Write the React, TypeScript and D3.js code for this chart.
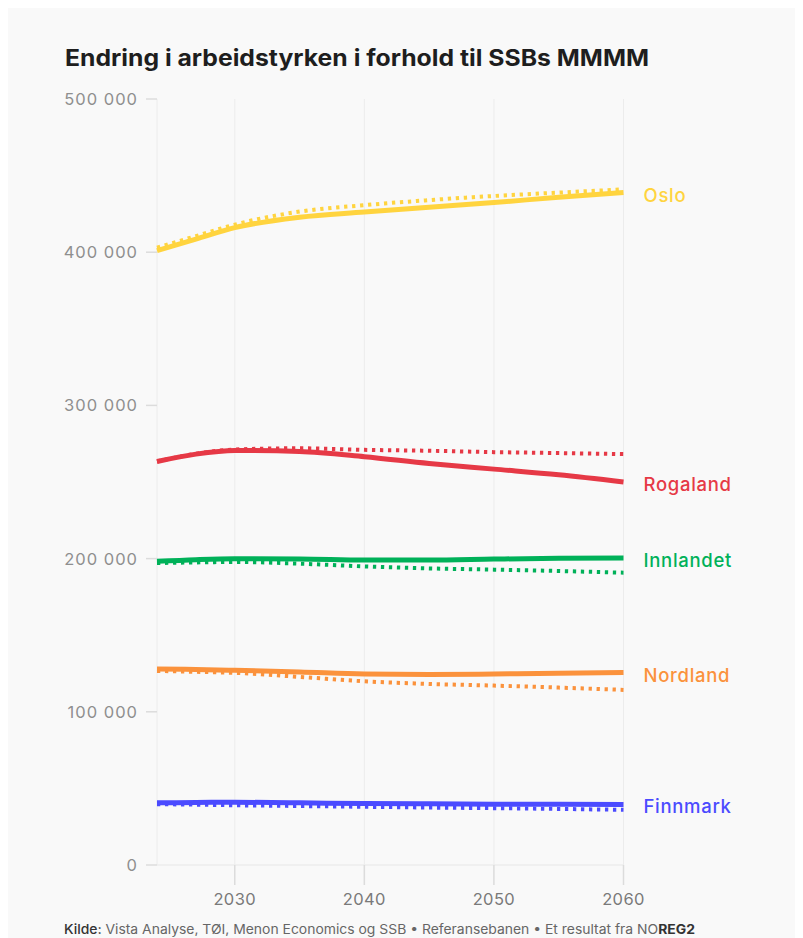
import React from "react";
import * as d3 from "d3";

// Years sampled along each projection
const years = [2024, 2027, 2030, 2035, 2040, 2045, 2050, 2055, 2060];

// Labour force, reference path (solid)
const osloRef = [401000, 408500, 416000, 422800, 426200, 429400, 432400, 435900, 438900];
const rogalandRef = [263400, 268200, 270600, 269900, 266500, 262100, 258400, 254700, 250000];
const innlandetRef = [198200, 199300, 199900, 199800, 199100, 199100, 199700, 200200, 200400];
const nordlandRef = [128000, 127600, 127100, 126000, 124700, 124300, 124700, 125100, 125600];
const finnmarkRef = [40600, 40800, 41000, 40600, 40100, 39900, 39700, 39600, 39500];

// Labour force, SSB MMMM (dotted)
const osloSsb = [403000, 410500, 418000, 426500, 430700, 434000, 436700, 438900, 441000];
const rogalandSsb = [263400, 268400, 271200, 272000, 271000, 270400, 269500, 268900, 268200];
const innlandetSsb = [197100, 197500, 197800, 196700, 194900, 193600, 192800, 191900, 190800];
const nordlandSsb = [126700, 126100, 125400, 122800, 119900, 118200, 117100, 115800, 114300];
const finnmarkSsb = [39700, 39400, 39000, 38500, 38000, 37500, 37100, 36600, 36000];

const regions = ["Oslo", "Rogaland", "Innlandet", "Nordland", "Finnmark"];
const colors = ["#ffd43f", "#e63946", "#00b159", "#fb923c", "#4b4bff"];
const refSeries = [osloRef, rogalandRef, innlandetRef, nordlandRef, finnmarkRef];
const ssbSeries = [osloSsb, rogalandSsb, innlandetSsb, nordlandSsb, finnmarkSsb];

const yTicks = [0, 100000, 200000, 300000, 400000, 500000];
const xTicks = [2030, 2040, 2050, 2060];

const W = 787;
const H = 930;
const OFF = 8; // page margin
const left = 157 - OFF;
const right = 623.5 - OFF;
const top = 99 - OFF;
const bottom = 865 - OFF;

const FONT = "Inter, 'Open Sans', sans-serif";

export default function App() {
  const x = d3.scaleLinear().domain([2024, 2060]).range([left, right]);
  const y = d3.scaleLinear().domain([0, 500000]).range([bottom, top]);
  const line = d3
    .line<number>()
    .x((_, i) => x(years[i]))
    .y((d) => y(d))
    .curve(d3.curveMonotoneX);
  const fmt = (v: number) => d3.format(",")(v).replace(/,/g, " ");

  return (
    <svg width={W} height={H} style={{ display: "block" }}>
      <rect x={0} y={0} width={W} height={H} fill="#f9f9f9" />
      <text
        x={65 - OFF}
        y={66 - OFF}
        fontFamily={FONT}
        fontWeight={700}
        fontSize={22.5}
        fill="#1e1e1e"
        textLength={584}
        lengthAdjust="spacingAndGlyphs"
      >
        Endring i arbeidstyrken i forhold til SSBs MMMM
      </text>

      {/* vertical grid */}
      {[2024, ...xTicks].map((t) => (
        <line
          key={"g" + t}
          x1={x(t)}
          x2={x(t)}
          y1={top}
          y2={bottom}
          stroke="#ececec"
          strokeWidth={1}
        />
      ))}
      {/* baseline */}
      <line x1={left} x2={right} y1={bottom} y2={bottom} stroke="#ececec" strokeWidth={1.5} />
      {/* x ticks */}
      {xTicks.map((t) => (
        <g key={"x" + t}>
          <line x1={x(t)} x2={x(t)} y1={bottom} y2={bottom + 20} stroke="#dcdcdc" strokeWidth={1.5} />
          <text
            x={x(t)}
            y={bottom + 34}
            textAnchor="middle"
            dominantBaseline="central"
            fontFamily={FONT}
            fontSize={16.5}
            letterSpacing={0.4}
            fill="#7a7a7a"
          >
            {t}
          </text>
        </g>
      ))}
      {/* y ticks */}
      {yTicks.map((t) => (
        <g key={"y" + t}>
          <line x1={left - 11} x2={left} y1={y(t)} y2={y(t)} stroke="#dcdcdc" strokeWidth={1.5} />
          <text
            x={left - 19}
            y={y(t)}
            textAnchor="end"
            dominantBaseline="central"
            fontFamily={FONT}
            fontSize={16.5}
            letterSpacing={1}
            fill="#8f8f8f"
          >
            {fmt(t)}
          </text>
        </g>
      ))}

      {/* series */}
      {regions.map((r, i) => (
        <g key={r}>
          <path d={line(refSeries[i]) || ""} fill="none" stroke={colors[i]} strokeWidth={5} />
          <path
            d={line(ssbSeries[i]) || ""}
            fill="none"
            stroke={colors[i]}
            strokeWidth={4}
            strokeDasharray="3.3 4.7"
          />
          <text
            x={right + 20}
            y={y(refSeries[i][refSeries[i].length - 1]) + 2}
            dominantBaseline="central"
            fontFamily={FONT}
            fontWeight={500}
            fontSize={18.5}
            letterSpacing={0.7}
            fill={colors[i]}
          >
            {r}
          </text>
        </g>
      ))}

      {/* source line */}
      <text
        x={64 - OFF}
        y={929 - OFF}
        dominantBaseline="central"
        fontFamily={FONT}
        fontSize={13}
        fill="#666"
        textLength={631}
        lengthAdjust="spacingAndGlyphs"
      >
        <tspan fill="#333" fontWeight={500}>Kilde: </tspan>
        <tspan>Vista Analyse, TØI, Menon Economics og SSB • Referansebanen  • Et resultat fra NO</tspan>
        <tspan fill="#333" fontWeight={700}>REG2</tspan>
      </text>
    </svg>
  );
}
